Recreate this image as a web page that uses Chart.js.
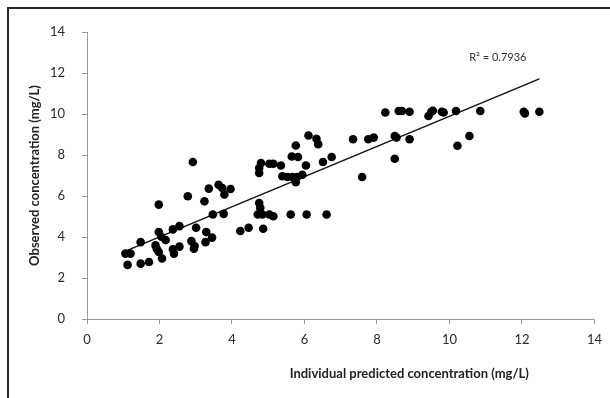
<!DOCTYPE html>
<html>
<head>
<meta charset="utf-8">
<title>Observed vs predicted</title>
<script src="https://cdn.jsdelivr.net/npm/chart.js@4.4.0/dist/chart.umd.min.js"></script>
<style>
    html, body { margin: 0; padding: 0; background: #fff; overflow: hidden; }
    #wrap { position: relative; width: 610px; height: 398px; }
    #frame { position: absolute; left: 7px; top: 7px; width: 620px; height: 420px; border-left: 2px solid #2a2a2a; border-top: 2px solid #2a2a2a; }
    #chart { position: absolute; left: 0; top: 0; }
</style>
</head>
<body>
<div id="wrap">
    <div id="frame"></div>
    <canvas id="chart" width="610" height="398"></canvas>
</div>
<script>
// individual predicted concentration (mg/L)
const predicted = [
    2.92, 1.98, 2.78, 3.24, 3.36, 2.55, 2.37, 3.01, 1.98, 2.05,
    2.17, 1.48, 1.89, 1.93, 1.98, 1.06, 1.20, 2.07, 1.12, 1.48,
    1.71, 2.40, 2.37, 2.55, 2.88, 2.97, 2.95, 3.29, 3.27,
    6.11, 5.76, 6.33, 6.38, 5.65, 5.82, 6.04, 6.51, 4.80, 5.03,
    5.14, 5.35, 4.75, 4.75, 5.39, 5.53, 5.67, 5.80, 5.94, 5.76,
    3.63, 3.73, 3.79, 3.96, 3.47, 3.77, 3.45, 4.23, 4.46, 4.86,
    4.75, 4.78, 4.71, 4.84, 5.03, 5.14, 5.62, 6.06, 6.61,
    6.75, 7.34, 7.59, 7.76, 7.91, 8.23, 8.60, 8.69, 8.90, 8.49,
    8.54, 8.49, 8.90, 9.42, 9.50, 9.54, 9.79, 9.84,
    10.18, 10.85, 12.05, 12.08, 12.48, 10.55, 10.22
];
// observed concentration (mg/L)
const observed = [
    7.66, 5.58, 5.99, 5.74, 6.36, 4.53, 4.37, 4.45, 4.24, 4.01,
    3.85, 3.75, 3.59, 3.40, 3.27, 3.19, 3.19, 2.95, 2.64, 2.70,
    2.78, 3.19, 3.40, 3.53, 3.80, 3.56, 3.43, 4.24, 3.75,
    8.95, 8.46, 8.79, 8.53, 7.93, 7.90, 7.49, 7.66, 7.61, 7.57,
    7.57, 7.49, 7.36, 7.12, 6.96, 6.93, 6.93, 6.93, 7.04, 6.67,
    6.55, 6.39, 6.07, 6.34, 5.10, 5.13, 3.97, 4.29, 4.45, 4.40,
    5.66, 5.42, 5.10, 5.10, 5.10, 5.01, 5.10, 5.10, 5.10,
    7.90, 8.77, 6.93, 8.77, 8.85, 10.07, 10.15, 10.15, 10.11, 8.93,
    8.85, 7.82, 8.77, 9.90, 10.11, 10.16, 10.11, 10.07,
    10.15, 10.15, 10.11, 10.03, 10.11, 8.93, 8.45
];

const axisMin = 0;
const axisMax = 14;
const tickStep = 2;
const r2Label = 'R\u00b2 = 0.7936';
const xTitle = 'Individual predicted concentration (mg/L)';
const yTitle = 'Observed concentration (mg/L)';

const points = predicted.map((x, i) => ({ x: x, y: observed[i] }));

// least squares line through the points
const n = points.length;
const meanX = predicted.reduce((a, b) => a + b, 0) / n;
const meanY = observed.reduce((a, b) => a + b, 0) / n;
let sxy = 0, sxx = 0;
points.forEach(p => {
    sxy += (p.x - meanX) * (p.y - meanY);
    sxx += (p.x - meanX) * (p.x - meanX);
});
const slope = sxy / sxx;
const intercept = meanY - slope * meanX;
const xStart = Math.min(...predicted);
const xEnd = Math.max(...predicted);
const trend = [
    { x: xStart, y: intercept + slope * xStart },
    { x: xEnd, y: intercept + slope * xEnd }
];

const fontFamily = "Lato, 'Open Sans', sans-serif";

const extraText = {
    id: 'extraText',
    afterDraw(chart) {
        const ctx = chart.ctx;
        const area = chart.chartArea;
        const xs = chart.scales.x;
        const ys = chart.scales.y;
        ctx.save();
        ctx.fillStyle = '#222';
        ctx.font = 'bold 13px ' + fontFamily;
        ctx.textAlign = 'center';
        ctx.textBaseline = 'middle';
        ctx.fillText(xTitle, area.left + (area.right - area.left) * 0.635, 374);

        ctx.fillStyle = '#333';
        ctx.font = '11px ' + fontFamily;
        ctx.textAlign = 'left';
        ctx.fillText(r2Label, xs.getPixelForValue(xEnd) - 70, ys.getPixelForValue(12.75));
        ctx.restore();
    }
};

new Chart(document.getElementById('chart'), {
    data: {
        datasets: [{
            type: 'scatter',
            data: points,
            backgroundColor: '#000',
            borderWidth: 0,
            pointRadius: 4.3,
            pointHoverRadius: 4.3,
            order: 1
        }, {
            type: 'line',
            data: trend,
            borderColor: '#111',
            borderWidth: 1.5,
            pointRadius: 0,
            fill: false,
            order: 2
        }]
    },
    options: {
        responsive: false,
        animation: false,
        layout: { padding: { left: 27, top: 32, right: 13, bottom: 14 } },
        plugins: {
            legend: { display: false },
            tooltip: { enabled: false }
        },
        scales: {
            x: {
                type: 'linear',
                min: axisMin,
                max: axisMax,
                ticks: {
                    stepSize: tickStep,
                    color: '#2a2a2a',
                    padding: 8,
                    font: { family: fontFamily, size: 13 }
                },
                grid: { drawOnChartArea: false, tickLength: 5, color: '#999' },
                border: { color: '#999', width: 1 },
                afterFit(scale) { scale.height = 65; }
            },
            y: {
                type: 'linear',
                min: axisMin,
                max: axisMax,
                ticks: {
                    stepSize: tickStep,
                    color: '#2a2a2a',
                    padding: 17,
                    font: { family: fontFamily, size: 13 }
                },
                grid: { drawOnChartArea: false, tickLength: 5, color: '#999' },
                border: { color: '#999', width: 1 },
                title: {
                    display: true,
                    text: yTitle,
                    color: '#222',
                    padding: 0,
                    font: { family: fontFamily, size: 13, weight: 'bold' }
                },
                afterFit(scale) { scale.width = 60; }
            }
        }
    },
    plugins: [extraText]
});
</script>
</body>
</html>
